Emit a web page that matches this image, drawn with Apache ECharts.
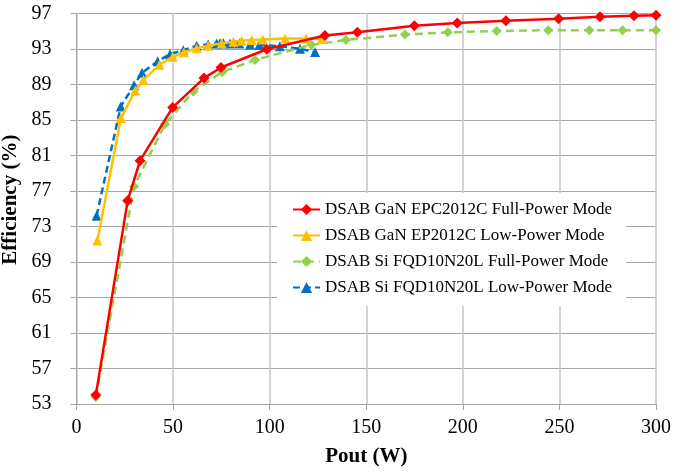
<!DOCTYPE html>
<html>
<head>
<meta charset="utf-8">
<script src="https://cdn.jsdelivr.net/npm/echarts@6/dist/echarts.min.js"></script>
<style>
html,body{margin:0;padding:0;background:#fff;}
#c{width:690px;height:472px;}
</style>
</head>
<body>
<div id="c"></div>
<script>
const seriesNames = [
  'DSAB GaN EPC2012C Full-Power Mode',
  'DSAB GaN EP2012C Low-Power Mode',
  'DSAB Si FQD10N20L Full-Power Mode',
  'DSAB Si FQD10N20L Low-Power Mode'
];
const ganFullX = [10, 26.5, 32.9, 49.8, 66, 74.8, 98.5, 128.6, 145.4, 174.9, 197.1, 222.3, 249.6, 271, 288.6, 300];
const ganFullY = [54.0, 75.9, 80.4, 86.4, 89.7, 90.9, 92.95, 94.5, 94.86, 95.6, 95.9, 96.17, 96.4, 96.62, 96.73, 96.77];
const ganLowX = [10.8, 23, 30.4, 34.6, 42.9, 49.8, 55.6, 62.2, 68.2, 75.2, 81.2, 85.5, 90.7, 96.4, 108, 118.8, 126.9];
const ganLowY = [71.4, 85.2, 88.3, 89.5, 91.2, 92.1, 92.6, 93.05, 93.35, 93.62, 93.8, 93.9, 94.0, 94.06, 94.17, 94.17, 94.1];
const siFullX = [10, 29.8, 45.8, 60.5, 75.5, 92.4, 121.6, 139.5, 170, 192.2, 217.5, 244.2, 265.5, 282.7, 300];
const siFullY = [53.8, 77.5, 84.5, 88.2, 90.4, 91.75, 93.45, 94.0, 94.6, 94.86, 95.0, 95.1, 95.1, 95.1, 95.1];
const siLowX = [10.4, 22.9, 29.8, 33.9, 42, 48.4, 55.3, 62.2, 68.2, 72.6, 74.3, 76, 79.5, 84.3, 89.8, 94.6, 105.3, 115.7, 123.5];
const siLowY = [74.2, 86.5, 88.9, 90.3, 91.6, 92.4, 92.85, 93.35, 93.5, 93.6, 93.62, 93.62, 93.6, 93.6, 93.5, 93.43, 93.3, 93.0, 92.65];
const xTicks = [0, 50, 100, 150, 200, 250, 300];
const yTicks = [53, 57, 61, 65, 69, 73, 77, 81, 85, 89, 93, 97];

function pairs(xs, ys){ return xs.map((x,i)=>[x, ys[i]]); }

const serif = "'Liberation Serif','Times New Roman',serif";
const chart = echarts.init(document.getElementById('c'), null, {renderer:'canvas'});

const styles = [
  {color:'#FF0000', symbol:'diamond', size:11, type:'solid'},
  {color:'#FFC000', symbol:'triangle', size:10, type:'solid'},
  {color:'#92D050', symbol:'diamond', size:10, type:[8,5]},
  {color:'#0070C0', symbol:'triangle', size:10, type:[7,4]}
];
const datas = [pairs(ganFullX, ganFullY), pairs(ganLowX, ganLowY), pairs(siFullX, siFullY), pairs(siLowX, siLowY)];

chart.setOption({
  animation:false,
  backgroundColor:'#fff',
  grid:{left:76.5, right:34, top:13.3, bottom:68, containLabel:false, outerBoundsMode:'none'},
  legend:{
    orient:'vertical',
    left:277, top:193,
    padding:[8,14,10,15],
    backgroundColor:'#fff',
    itemWidth:27, itemHeight:14, itemGap:9,
    textStyle:{fontFamily:serif, fontSize:17, color:'#000', lineHeight:17},
    data:seriesNames
  },
  xAxis:{
    type:'value', min:xTicks[0], max:xTicks[xTicks.length-1], interval:50,
    name:'Pout (W)', nameLocation:'middle', nameGap:42,
    nameTextStyle:{fontFamily:serif, fontSize:21, fontWeight:'bold', color:'#000'},
    axisLine:{show:true, lineStyle:{color:'#A6A6A6', width:1}},
    axisTick:{show:true, length:6, lineStyle:{color:'#A6A6A6'}},
    axisLabel:{fontFamily:serif, fontSize:20, color:'#000', margin:14},
    splitLine:{show:true, lineStyle:{color:'#C4C4C4', width:1.5}}
  },
  yAxis:{
    type:'value', min:yTicks[0], max:yTicks[yTicks.length-1], interval:4,
    name:'Efficiency (%)', nameLocation:'middle', nameGap:43, nameRotate:90,
    nameTextStyle:{fontFamily:serif, fontSize:21, fontWeight:'bold', color:'#000', padding:[0,0,0,18]},
    axisLine:{show:true, lineStyle:{color:'#A6A6A6', width:1}},
    axisTick:{show:true, length:6, lineStyle:{color:'#A6A6A6'}},
    axisLabel:{fontFamily:serif, fontSize:20, color:'#000', margin:25},
    splitLine:{show:true, lineStyle:{color:'#A6A6A6', width:1}}
  },
  series: seriesNames.map((n,i)=>({
    name:n, type:'line', data:datas[i],
    symbol:styles[i].symbol, symbolSize:styles[i].size,
    itemStyle:{color:styles[i].color},
    lineStyle:{color:styles[i].color, width:2.5, type:styles[i].type},
    smooth:false,
    z: 10 - i
  }))
});
</script>
</body>
</html>
